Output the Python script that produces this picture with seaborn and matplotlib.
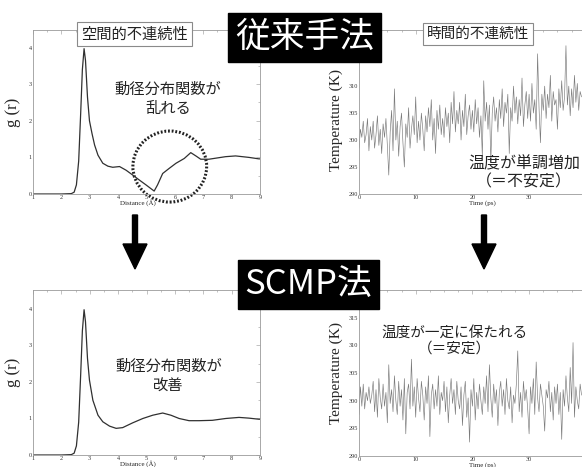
import numpy as np
import pandas as pd
import matplotlib
matplotlib.use("Agg")
import matplotlib.pyplot as plt
import seaborn as sns
from matplotlib.patches import Ellipse, FancyArrow
from matplotlib.ticker import MultipleLocator, FixedLocator

sns.set_style("white")
plt.rcParams['font.family'] = ['Noto Sans CJK JP', 'DejaVu Sans']

# --- data ---
# g(r) : conventional method (disturbed)
r_conv = [1.0, 2.0, 2.35, 2.45, 2.53, 2.61, 2.68, 2.74, 2.80, 2.85, 2.92, 2.99, 3.08, 3.17,
          3.29, 3.46, 3.64, 3.81, 4.05, 4.28, 4.51, 4.75, 4.98, 5.27, 5.39, 5.57, 5.80,
          6.04, 6.33, 6.56, 6.74, 6.91, 7.20, 7.79, 8.14, 8.61, 8.96, 9.0]
g_conv = [0.0, 0.0, 0.01, 0.05, 0.25, 0.9, 2.2, 3.4, 3.97, 3.65, 2.65, 2.0, 1.65, 1.34,
          1.06, 0.84, 0.76, 0.73, 0.75, 0.65, 0.52, 0.38, 0.25, 0.08, 0.25, 0.56, 0.70,
          0.84, 0.97, 1.13, 1.04, 0.95, 0.95, 1.02, 1.04, 1.0, 0.96, 0.96]

# g(r) : SCMP
r_scmp = [1.0, 2.0, 2.35, 2.45, 2.53, 2.61, 2.68, 2.74, 2.80, 2.85, 2.92, 2.99, 3.11, 3.29,
          3.46, 3.70, 3.93, 4.16, 4.51, 4.87, 5.22, 5.57, 5.86, 6.15, 6.50, 6.85, 7.32,
          7.79, 8.26, 8.61, 8.96, 9.0]
g_scmp = [0.0, 0.0, 0.01, 0.05, 0.25, 0.9, 2.2, 3.4, 3.98, 3.65, 2.65, 2.05, 1.5, 1.09,
          0.91, 0.79, 0.73, 0.75, 0.88, 1.0, 1.09, 1.15, 1.09, 1.0, 0.94, 0.94, 0.95,
          1.0, 1.03, 1.01, 0.98, 0.98]

# temperature traces, one sample every 0.25 ps
dt_ps = 0.25
temp_conv = [
    298.5, 302.0, 300.5, 303.5, 299.5, 301.0, 304.0, 298.0, 302.5, 300.0,
    303.5, 298.5, 301.0, 304.5, 299.0, 302.0, 297.5, 303.0, 300.5, 304.0,
    299.0, 293.5, 301.5, 305.5, 298.0, 309.5, 300.0, 303.5, 297.0, 302.5,
    305.0, 299.5, 295.0, 303.0, 300.5, 306.0, 298.5, 302.0, 304.5, 301.0,
    308.0, 299.5, 303.5, 300.0, 305.0, 302.0, 298.0, 304.5, 301.5, 306.0,
    302.5, 307.5, 300.0, 304.0, 297.5, 305.5, 302.0, 306.5, 301.0, 304.0,
    300.5, 306.0, 302.5, 305.0, 299.5, 307.0, 303.0, 309.0, 301.5, 305.5,
    303.0, 307.0, 300.0, 305.5, 302.5, 308.5, 301.0, 304.5, 306.5, 302.0,
    305.5, 301.5, 307.5, 303.0, 306.0, 300.5, 304.5, 297.0, 311.0, 303.5,
    307.0, 302.0, 306.5, 296.0, 305.0, 308.0, 303.5, 306.0, 301.5, 307.5,
    304.0, 309.5, 302.5, 307.0, 305.0, 308.5, 297.5, 306.0, 303.5, 310.0,
    305.0, 308.0, 303.0, 307.5, 304.5, 311.5, 302.5, 306.5, 309.0, 304.0,
    308.5, 303.5, 310.5, 305.0, 307.5, 302.0, 316.0, 306.0, 299.5, 308.5,
    305.5, 310.0, 304.0, 308.5, 306.0, 312.0, 303.5, 309.0, 306.5, 307.5,
    302.0, 309.5, 306.0, 311.0, 305.5, 308.0, 317.5, 306.5, 310.0, 304.5,
    309.5, 306.0, 312.0, 307.0, 310.5, 305.5, 309.0, 308.0]
temp_scmp = [
    297.5, 302.5, 299.0, 303.0, 298.5, 301.5, 300.0, 302.5, 299.5, 301.0,
    303.5, 298.0, 302.0, 297.0, 304.0, 300.5, 298.5, 303.0, 299.0, 301.5,
    296.0, 306.5, 299.5, 302.0, 298.0, 304.5, 300.0, 297.5, 303.5, 299.0,
    302.0, 296.5, 304.0, 294.0, 301.5, 303.0, 298.5, 307.5, 299.0, 302.5,
    297.0, 304.0, 300.5, 298.0, 303.5, 301.0, 296.5, 302.5, 299.5, 304.5,
    293.5, 301.0, 303.0, 298.5, 302.0, 299.0, 304.5, 297.5, 301.5, 300.0,
    303.5, 298.0, 302.5, 296.0, 301.0, 304.0, 299.5, 302.0, 297.5, 303.5,
    300.0, 298.5, 302.5, 295.5, 301.0, 303.5, 297.0, 300.5, 292.5, 302.0,
    299.0, 304.0, 296.5, 301.5, 298.5, 303.0, 300.0, 297.5, 302.5, 299.5,
    304.5, 298.0, 306.5, 300.5, 297.0, 303.0, 299.5, 302.0, 295.5, 301.5,
    303.5, 299.0, 302.0, 297.5, 304.0, 300.0, 298.5, 302.5, 296.0, 301.0,
    299.5, 303.0, 309.0, 298.0, 301.5, 297.0, 303.5, 300.0, 302.0, 298.5,
    294.0, 302.5, 299.5, 304.0, 297.5, 307.0, 300.5, 298.0, 303.0, 301.0,
    299.0, 294.5, 302.0, 300.5, 303.5, 298.0, 301.5, 296.5, 302.5, 299.5,
    303.0, 297.5, 301.5, 293.0, 302.0, 299.0, 304.5, 300.5, 298.0, 306.0,
    299.5, 310.5, 297.0, 302.5, 300.0, 298.5, 303.0, 301.0]

r_ticks = [1, 2, 3, 4, 5, 6, 7, 8, 9]
g_ticks = [0, 1, 2, 3, 4]
t_ticks = [0, 10, 20, 30]
T_ticks = [290, 295, 300, 305, 310, 315]

gr_conv = pd.DataFrame({'r': r_conv, 'g': g_conv})
gr_scmp = pd.DataFrame({'r': r_scmp, 'g': g_scmp})
t_conv = pd.DataFrame({'t': np.arange(len(temp_conv)) * dt_ps, 'T': temp_conv})
t_scmp = pd.DataFrame({'t': np.arange(len(temp_scmp)) * dt_ps, 'T': temp_scmp})

fig = plt.figure(figsize=(5.82, 4.67), dpi=100)
W, H = 582.0, 467.0
serif = 'Liberation Serif'


def px_axes(x0, y0, x1, y1):
    # pixel box (top-left origin) -> axes
    return fig.add_axes([x0 / W, 1 - y1 / H, (x1 - x0) / W, (y1 - y0) / H])


def style(ax, xt, xmin, yt, ymin):
    for s in ax.spines.values():
        s.set_color('#9a9a9a')
        s.set_linewidth(0.6)
    ax.xaxis.set_major_locator(FixedLocator(xt))
    ax.xaxis.set_minor_locator(MultipleLocator(xmin))
    ax.yaxis.set_major_locator(FixedLocator(yt))
    ax.yaxis.set_minor_locator(MultipleLocator(ymin))
    ax.tick_params(which='both', direction='in', top=True, right=True,
                   color='#aaaaaa', width=0.5, pad=1, labelsize=4.5, labelcolor='#333333')
    ax.tick_params(which='major', length=3)
    ax.tick_params(which='minor', length=1.5)
    for lab in ax.get_xticklabels() + ax.get_yticklabels():
        lab.set_family(serif)
    ax.set_facecolor('white')


# top left: g(r) conventional
ax1 = px_axes(33, 30, 260, 194)
sns.lineplot(data=gr_conv, x='r', y='g', ax=ax1, color='#303030', lw=0.9, estimator=None)
ax1.set_xlim(1, 9)
ax1.set_ylim(0, 4.48)
style(ax1, r_ticks, 0.5, g_ticks, 0.5)
ax1.set_ylabel('g (r)', family=serif, fontsize=12)
ax1.yaxis.set_label_coords(-0.055, 0.5)
ax1.set_xlabel('Distance (Å)', family=serif, fontsize=5)
ax1.xaxis.set_label_coords(0.46, -0.03)
ax1.text(5.75, 2.6, '動径分布関数が\n乱れる', ha='center', va='center', fontsize=11,
         linespacing=1.2, color='#222222')
ax1.add_patch(Ellipse((5.82, 0.75), 2.6, 1.94, fill=False, ec='#222222', lw=2.2,
                      ls=(0, (0.6, 0.6)), clip_on=False))

# top right: temperature conventional
ax2 = px_axes(359, 30, 359 + 42 * 5.67, 194)
sns.lineplot(data=t_conv, x='t', y='T', ax=ax2, color='#7a7a7a', lw=0.45, estimator=None)
ax2.set_xlim(0, 42)
ax2.set_ylim(290, 320.4)
style(ax2, t_ticks, 2.5, T_ticks[:-1], 2.5)
ax2.set_ylabel('Temperature (K)', family=serif, fontsize=11)
ax2.yaxis.set_label_coords(-0.068, 0.45)
ax2.set_xlabel('Time (ps)', family=serif, fontsize=5)
ax2.xaxis.set_label_coords(0.52, -0.035)
ax2.text(29.1, 293.9, '温度が単調増加\n（＝不安定）', ha='center', va='center', fontsize=11.5,
         linespacing=1.15, color='#222222')

# bottom left: g(r) SCMP
ax3 = px_axes(33, 290, 260, 455)
sns.lineplot(data=gr_scmp, x='r', y='g', ax=ax3, color='#303030', lw=0.9, estimator=None)
ax3.set_xlim(1, 9)
ax3.set_ylim(0, 4.52)
style(ax3, r_ticks, 0.5, g_ticks, 0.5)
ax3.set_ylabel('g (r)', family=serif, fontsize=12)
ax3.yaxis.set_label_coords(-0.055, 0.5)
ax3.set_xlabel('Distance (Å)', family=serif, fontsize=5)
ax3.xaxis.set_label_coords(0.46, -0.03)
ax3.text(5.77, 2.15, '動径分布関数が\n改善', ha='center', va='center', fontsize=11,
         linespacing=1.2, color='#222222')

# bottom right: temperature SCMP
ax4 = px_axes(359, 290, 359 + 42 * 5.67, 456)
sns.lineplot(data=t_scmp, x='t', y='T', ax=ax4, color='#7a7a7a', lw=0.45, estimator=None)
ax4.set_xlim(0, 42)
ax4.set_ylim(290, 320)
style(ax4, t_ticks, 2.5, T_ticks, 2.5)
ax4.set_ylabel('Temperature (K)', family=serif, fontsize=11)
ax4.yaxis.set_label_coords(-0.068, 0.5)
ax4.set_xlabel('Time (ps)', family=serif, fontsize=5)
ax4.xaxis.set_label_coords(0.52, -0.035)
ax4.text(16.8, 310.9, '温度が一定に保たれる\n（＝安定）', ha='center', va='center', fontsize=10.5,
         linespacing=1.15, color='#222222')

# headline boxes
fig.text(304.5 / W, 1 - 37.5 / H, '従来手法', ha='center', va='center', color='white',
         fontsize=25, bbox=dict(boxstyle='square,pad=0.2', fc='black', ec='black'))
fig.text(308.5 / W, 1 - 284.5 / H, 'SCMP法', ha='center', va='center', color='white',
         fontsize=25, bbox=dict(boxstyle='square,pad=0.2', fc='black', ec='black'))

# panel captions
cap = dict(boxstyle='square,pad=0.25', fc='white', ec='#8a8a8a', lw=0.8)
fig.text(134.5 / W, 1 - 34 / H, '空間的不連続性', ha='center', va='center', fontsize=11,
         color='#222222', bbox=cap)
fig.text(478 / W, 1 - 34 / H, '時間的不連続性', ha='center', va='center', fontsize=10.5,
         color='#222222', bbox=cap)

# down arrows
for xa in (135, 484):
    fig.add_artist(FancyArrow(xa / 100, (H - 215) / 100, 0, -(269 - 215) / 100,
                              width=0.05, head_width=0.24, head_length=0.25,
                              length_includes_head=True, color='black',
                              transform=fig.dpi_scale_trans))

fig.savefig('out.png', dpi=100)
